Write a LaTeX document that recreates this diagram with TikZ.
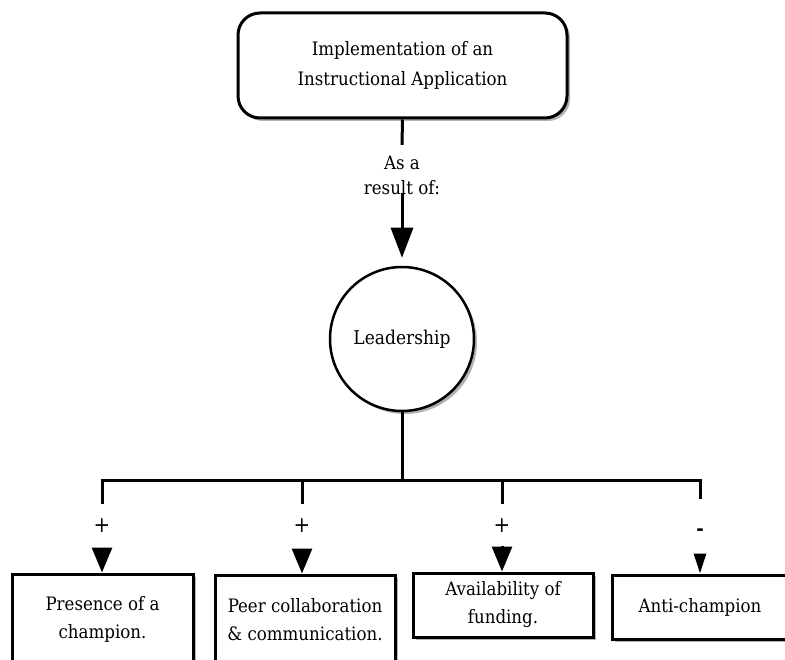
\documentclass[tikz,border=0pt]{standalone}
\usepackage{fontspec}
\setmainfont{DejaVu Serif Condensed}
\usetikzlibrary{arrows.meta,shadows}
\begin{document}
\begin{tikzpicture}[x=1pt,y=-1pt,
  shade/.style={drop shadow={shadow xshift=3pt,shadow yshift=-3pt,fill=black,opacity=0.3}},
  conn/.style={line width=3pt},
  toleaf/.style={line width=3pt,shorten <=2.5pt,-{Triangle[length=25pt,width=20pt]}},
  topbox/.style={draw,line width=3pt,rounded corners=22pt,fill=white,shade,minimum width=329pt,minimum height=105pt,align=center,inner sep=0pt,font=\fontsize{18.5}{30}\selectfont},
  leadc/.style={draw,circle,line width=2.5pt,fill=white,shade,minimum size=144pt,inner sep=0pt,font=\fontsize{19}{22}\selectfont},
  leafbox/.style={draw,line width=3pt,fill=white,shade,align=center,inner sep=0pt,font=\fontsize{18.5}{28}\selectfont},
  lbl/.style={inner sep=0pt,align=center,font=\fontsize{18.5}{25}\selectfont},
  sign/.style={inner sep=0pt,minimum height=44pt,font=\fontsize{22}{22}\selectfont},
]
\useasboundingbox (0,0) rectangle (785,660);
\clip (0,0) rectangle (785,660);

\node[topbox] (top) at (402.5,65.5) {Implementation of an\\Instructional Application};
\node[lbl,minimum height=60pt] (res) at (402,175) {As a\\result of:};
\node[leadc] (lead) at (402,339) {Leadership};

\draw[conn] (top.south) -- (res.north);
\draw[conn,-{Triangle[length=30pt,width=22pt]},shorten >=8pt] ([yshift=12pt]res.south) -- (lead.north);

\node[leafbox,minimum width=181pt,minimum height=90pt] (b1) at (102.5,619) {Presence of a\\champion.};
\node[leafbox,minimum width=180pt,minimum height=89pt] (b2) at (305,619.5) {Peer collaboration\\\&\ communication.};
\node[leafbox,minimum width=180pt,minimum height=64pt] (b3) at (503,605) {Availability of\\funding.};
\node[leafbox,minimum width=176pt,minimum height=64pt] (b4) at (700,607) {Anti-champion};

\coordinate (jc) at (402,480);
\node[sign] (p1) at (102,526) {+};
\node[sign] (p2) at (302,526) {+};
\node[sign] (p3) at (502,526) {+};
\node[sign,minimum height=54pt,font=\bfseries\fontsize{20}{20}\selectfont] (p4) at (700,526.5) {\raisebox{-8.5pt}[0pt][0pt]{-}};

\draw[conn] (lead.south) -- (jc);
\draw[conn,line join=miter] (p1.north) -- (p1.north |- jc) -- (p4.north |- jc) -- (p4.north);
\draw[conn] (p2.north) -- (p2.north |- jc);
\draw[conn] (p3.north) -- (p3.north |- jc);

\draw[toleaf] (p1.south) -- (p1.south |- b1.north);
\draw[toleaf] (p2.south) -- (p2.south |- b2.north);
\draw[toleaf] (p3.south) -- (p3.south |- b3.north);
\draw[conn,shorten <=2pt,-{Triangle[length=20pt,width=12pt]}] (p4.south) -- (p4.south |- b4.north);
\end{tikzpicture}
\end{document}
